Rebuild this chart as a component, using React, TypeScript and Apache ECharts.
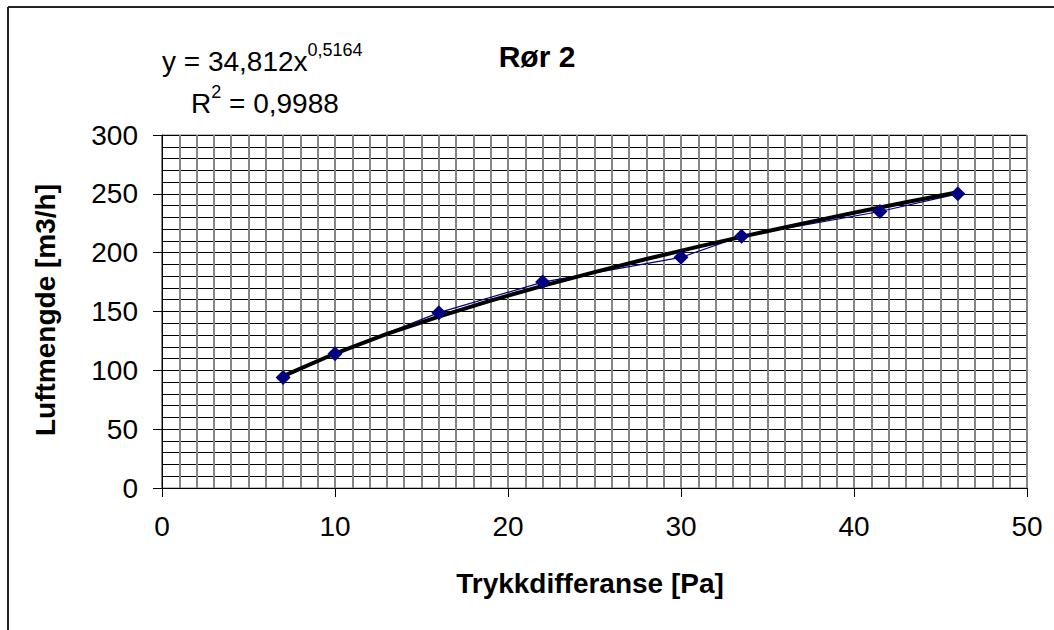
import React, { useEffect, useRef } from "react";
import * as echarts from "echarts";

// Measured points (Trykkdifferanse [Pa], Luftmengde [m3/h])
const pressure = [7, 10, 16, 22, 30, 33.5, 41.5, 46];
const airflow = [94, 114, 149, 175, 196, 214, 235, 250];

// Power trendline values
const trendX = [7, 10, 13, 16, 19, 22, 25, 28, 31, 34, 37, 40, 43, 46];
const trendY = [95.1, 114.3, 130.9, 145.7, 159.3, 171.8, 183.5, 194.6, 205.1, 215.1, 224.7, 233.9, 242.8, 251.4];

const xTicks = [0, 10, 20, 30, 40, 50];
const yTicks = [0, 50, 100, 150, 200, 250, 300];

const title = "Rør 2";
const xTitle = "Trykkdifferanse [Pa]";
const yTitle = "Luftmengde [m3/h]";
const eqMain = "y = 34,812x";
const eqExp = "0,5164";
const r2Main = "R";
const r2Exp = "2";
const r2Rest = " = 0,9988";

const FONT = "Arial, 'Liberation Sans', sans-serif";

export default function App() {
  const ref = useRef<HTMLDivElement>(null);
  useEffect(() => {
    if (!ref.current) return;
    const chart = echarts.init(ref.current, undefined, { renderer: "svg" });
    const pts = pressure.map((x, i) => [x, airflow[i]]);
    const trend = trendX.map((x, i) => [x, trendY[i]]);
    const richBase = {
      m: { fontSize: 28, fontFamily: FONT, color: "#000", lineHeight: 34, verticalAlign: "bottom" },
      s: { fontSize: 18, fontFamily: FONT, color: "#000", lineHeight: 34, verticalAlign: "top", padding: [0, 0, 14, 0] },
    };
    chart.setOption({
      animation: false,
      backgroundColor: "#ffffff",
      grid: {
        left: 162,
        right: 27,
        top: 135,
        bottom: 142,
        show: true,
        borderColor: "#808080",
        borderWidth: 1,
      },
      xAxis: {
        type: "value",
        min: xTicks[0],
        max: xTicks[xTicks.length - 1],
        interval: 10,
        minorTick: { show: false, splitNumber: 10 },
        minorSplitLine: { show: true, lineStyle: { color: "#858585", width: 2 } },
        splitLine: { show: true, lineStyle: { color: "#858585", width: 2 } },
        axisLine: { show: true, onZero: false, lineStyle: { color: "#000", width: 1 } },
        axisTick: { show: true, length: 9, lineStyle: { color: "#000" } },
        axisLabel: { color: "#000", fontSize: 28, fontFamily: FONT, margin: 24 },
      },
      yAxis: {
        type: "value",
        min: yTicks[0],
        max: yTicks[yTicks.length - 1],
        interval: 50,
        minorTick: { show: false, splitNumber: 5 },
        minorSplitLine: { show: true, lineStyle: { color: "#000", width: 1 } },
        splitLine: { show: true, lineStyle: { color: "#000", width: 1 } },
        axisLine: { show: true, onZero: false, lineStyle: { color: "#000", width: 1 } },
        axisTick: { show: true, length: 9, lineStyle: { color: "#000" } },
        axisLabel: { color: "#000", fontSize: 28, fontFamily: FONT, margin: 24 },
      },
      series: [
        {
          type: "line",
          data: pts,
          z: 2,
          symbol: "none",
          lineStyle: { color: "#000080", width: 1.2 },
        },
        {
          type: "line",
          data: trend,
          z: 3,
          symbol: "none",
          smooth: false,
          lineStyle: { color: "#000", width: 4 },
        },
        {
          type: "scatter",
          data: pts,
          z: 4,
          symbol: "diamond",
          symbolSize: 15,
          itemStyle: { color: "#000080", opacity: 1 },
        },
      ],
      graphic: [
        { type: "line", shape: { x1: 8, y1: 7, x2: 1054, y2: 7 }, style: { stroke: "#222", lineWidth: 2 } },
        { type: "line", shape: { x1: 8, y1: 7, x2: 8, y2: 630 }, style: { stroke: "#222", lineWidth: 2 } },
        {
          type: "text",
          x: 537,
          y: 56,
          style: { text: title, font: `bold 30px ${FONT}`, fill: "#000", textAlign: "center", textVerticalAlign: "middle" },
        },
        {
          type: "text",
          x: 590,
          y: 583,
          style: { text: xTitle, font: `bold 28px ${FONT}`, fill: "#000", textAlign: "center", textVerticalAlign: "middle" },
        },
        {
          type: "text",
          x: 45,
          y: 310,
          rotation: Math.PI / 2,
          style: { text: yTitle, font: `bold 28px ${FONT}`, fill: "#000", textAlign: "center", textVerticalAlign: "middle" },
        },
        {
          type: "text",
          x: 162,
          y: 41,
          style: {
            text: `{m|${eqMain}}{s|${eqExp}}`,
            fill: "#000",
            textAlign: "left",
            textVerticalAlign: "top",
            rich: richBase,
          },
        },
        {
          type: "text",
          x: 191,
          y: 83,
          style: {
            text: `{m|${r2Main}}{s|${r2Exp}}{m|${r2Rest}}`,
            fill: "#000",
            textAlign: "left",
            textVerticalAlign: "top",
            rich: richBase,
          },
        },
      ],
    });
    return () => chart.dispose();
  }, []);
  return <div ref={ref} style={{ position: "absolute", left: 0, top: 0, width: 1054, height: 630 }} />;
}
